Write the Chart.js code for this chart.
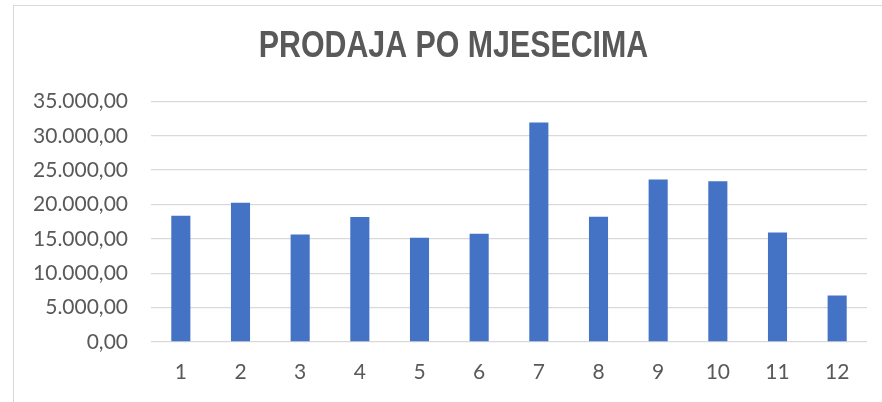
<!DOCTYPE html>
<html>
<head>
<meta charset="utf-8">
<script src="https://cdn.jsdelivr.net/npm/chart.js@4"></script>
<style>
  html, body { margin: 0; padding: 0; background: #fff; overflow: hidden; }
  .frame {
    position: absolute; left: 13px; top: 5px;
    width: 900px; height: 420px;
    border: 1px solid #d9d9d9;
  }
  .box { position: absolute; left: 0; top: 0; width: 879px; height: 396px; }
</style>
</head>
<body>
<div class="frame"><div class="box"><canvas id="myChart"></canvas></div></div>
<script>
const months = ['1', '2', '3', '4', '5', '6', '7', '8', '9', '10', '11', '12'];
const sales = [18380, 20270, 15650, 18180, 15170, 15750, 31940, 18230, 23630, 23380, 15940, 6750];
const yMax = 35000;
const yStep = 5000;
const titleText = 'PRODAJA PO MJESECIMA';

// 35000 -> "35.000,00"
function fmt(v) {
  const s = String(Math.round(v));
  return s.replace(/\B(?=(\d{3})+(?!\d))/g, '.') + ',00';
}

// the original title is a condensed bold face, so squeeze it a bit
const narrowTitle = {
  id: 'narrowTitle',
  afterDraw(chart) {
    const t = chart.titleBlock;
    if (!t) return;
    const c = chart.ctx;
    c.save();
    c.font = 'bold 37px "Liberation Sans", Arial, sans-serif';
    c.fillStyle = '#595959';
    c.textAlign = 'center';
    c.textBaseline = 'middle';
    c.translate(chart.width / 2, t.top + 19 + 22.2);
    c.scale(0.82, 1);
    c.fillText(titleText, 0, 0);
    c.restore();
  }
};

const ctx = document.getElementById('myChart');

new Chart(ctx, {
  type: 'bar',
  data: {
    labels: months,
    datasets: [{
      label: 'Prodaja',
      data: sales,
      backgroundColor: '#4472C4',
      borderWidth: 0,
      categoryPercentage: 1,
      barPercentage: 0.32
    }]
  },
  options: {
    responsive: true,
    maintainAspectRatio: false,
    animation: false,
    layout: { padding: { left: 0, right: 26, top: 0, bottom: 0 } },
    plugins: {
      legend: { display: false },
      tooltip: { enabled: false },
      title: {
        display: true,
        text: titleText,
        color: 'rgba(0,0,0,0)',
        font: { family: '"Liberation Sans", Arial, sans-serif', size: 37, weight: 'bold', lineHeight: 1.2 },
        padding: { top: 19, bottom: 32 }
      }
    },
    scales: {
      x: {
        grid: { display: false, drawTicks: false },
        border: { display: false },
        ticks: { color: '#595959', font: { family: 'Lato', size: 21 }, padding: 18, maxRotation: 0 },
        afterFit(scale) { scale.height = 60; }
      },
      y: {
        min: 0,
        max: yMax,
        grid: { color: '#d9d9d9', lineWidth: 1.3, drawTicks: false },
        border: { display: false },
        ticks: {
          stepSize: yStep,
          color: '#595959',
          font: { family: 'Lato', size: 21 },
          padding: 23,
          callback: (v) => fmt(v)
        },
        afterFit(scale) { scale.width = 137; }
      }
    }
  },
  plugins: [narrowTitle]
});
</script>
</body>
</html>
